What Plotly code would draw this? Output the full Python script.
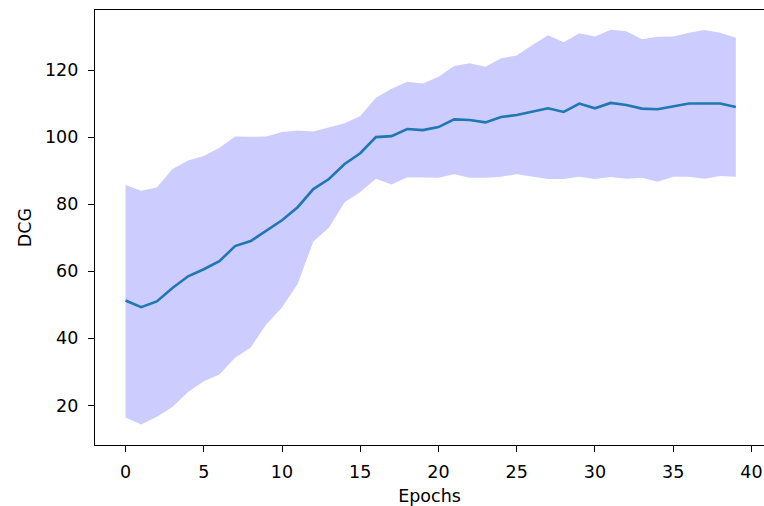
import plotly.graph_objects as go

# Training curve: mean DCG per epoch with a shaded spread band
epochs = list(range(40))

dcg_mean = [51.3, 49.3, 51.0, 55.0, 58.5, 60.6, 63.0, 67.5, 69.0, 72.2,
            75.2, 79.1, 84.5, 87.5, 92.0, 95.2, 100.0, 100.3, 102.4, 102.1,
            103.0, 105.3, 105.1, 104.4, 106.0, 106.6, 107.6, 108.6, 107.5, 110.0,
            108.6, 110.2, 109.6, 108.5, 108.3, 109.2, 110.0, 110.0, 110.0, 109.0]

dcg_upper = [85.7, 84.0, 85.0, 90.5, 93.0, 94.4, 96.8, 100.2, 100.1, 100.2,
             101.5, 102.0, 101.7, 102.8, 104.1, 106.3, 111.7, 114.4, 116.5, 116.0,
             118.0, 121.2, 122.0, 121.0, 123.5, 124.3, 127.5, 130.4, 128.3, 131.0,
             130.0, 132.0, 131.6, 129.2, 129.9, 130.0, 131.1, 131.9, 131.1, 129.6]

dcg_lower = [16.4, 14.3, 16.6, 19.5, 24.0, 27.2, 29.2, 34.2, 37.3, 44.2,
             49.2, 56.2, 68.9, 73.0, 80.6, 83.6, 87.6, 85.9, 88.0, 87.9,
             87.9, 88.9, 87.9, 87.9, 88.2, 88.9, 88.1, 87.5, 87.5, 88.2,
             87.5, 88.1, 87.6, 87.9, 86.7, 88.2, 88.2, 87.6, 88.4, 88.2]

y_ticks = [20, 40, 60, 80, 100, 120]
x_ticks = [0, 5, 10, 15, 20, 25, 30, 35, 40]

FONT = "DejaVu Sans"
FS = 17.5

fig = go.Figure()

fig.add_trace(go.Scatter(
    x=epochs, y=dcg_lower, mode="lines",
    line=dict(width=0, color="rgba(0,0,255,0)"),
    hoverinfo="skip", showlegend=False,
))
fig.add_trace(go.Scatter(
    x=epochs, y=dcg_upper, mode="lines",
    line=dict(width=0, color="rgba(0,0,255,0)"),
    fill="tonexty", fillcolor="rgba(0,0,255,0.2)",
    hoverinfo="skip", showlegend=False,
))
fig.add_trace(go.Scatter(
    x=epochs, y=dcg_mean, mode="lines",
    line=dict(width=2.6, color="#1f77b4"),
    showlegend=False,
))

axis_common = dict(
    showgrid=False, zeroline=False,
    showline=True, linecolor="#000000", linewidth=1.4,
    ticks="outside", ticklen=6, tickwidth=1.4, tickcolor="#000000",
    tickfont=dict(family=FONT, size=FS, color="#000000"),
)

fig.update_xaxes(
    **axis_common,
    range=[-1.95, 40.8],
    tickmode="array", tickvals=x_ticks,
    mirror=True,
    ticklabelstandoff=5,
    title=dict(text="Epochs", font=dict(family=FONT, size=FS, color="#000000"), standoff=8),
)
fig.update_yaxes(
    **axis_common,
    range=[8.2, 137.9],
    tickmode="array", tickvals=y_ticks,
    ticklabelstandoff=6,
    title=dict(text="DCG", font=dict(family=FONT, size=FS, color="#000000"), standoff=8),
)

fig.update_layout(
    width=764, height=506,
    margin=dict(l=95, r=0, t=10, b=61),
    plot_bgcolor="#ffffff", paper_bgcolor="#ffffff",
)

fig.write_html("out.html")
